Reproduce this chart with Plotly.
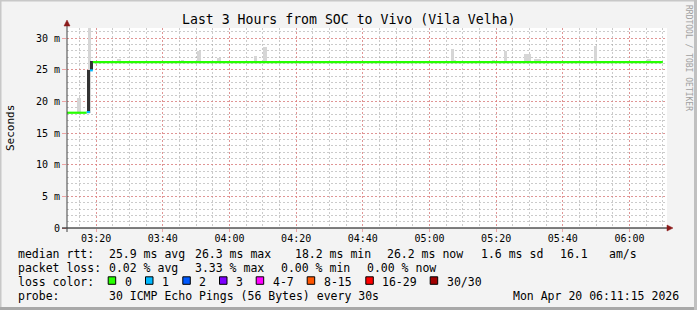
import pandas as pd
import plotly.graph_objects as go

# ---------------- data ----------------
day = "2026-04-20 "
t_start = day + "03:11:15"
t_end = day + "06:11:15"

x_tick_labels = ["03:20", "03:40", "04:00", "04:20", "04:40", "05:00", "05:20", "05:40", "06:00"]
y_tick_values = [0, 5, 10, 15, 20, 25, 30]
y_tick_labels = ["0", "5 m", "10 m", "15 m", "20 m", "25 m", "30 m"]

# median rtt (ms), step segments: start time, value, lost pings
med_time = ["03:11:15", "03:17:10", "03:18:10", "03:19:00", "06:10:00"]
med_value = [18.2, 18.3, 24.9, 26.2, 26.2]
med_loss = [0, 1, 1, 0, 0]

# light smoke (spread of individual pings)
smoke_start = ["03:14:20", "03:17:35", "03:26:10", "03:45:20", "03:50:10", "03:56:10",
               "04:07:20", "04:10:10", "05:06:20", "05:07:20", "05:18:40", "05:22:20",
               "05:28:20", "05:31:20", "05:49:20", "06:05:10"]
smoke_end = ["03:15:30", "03:18:30", "03:27:20", "03:46:20", "03:51:20", "03:57:20",
             "04:08:15", "04:11:20", "05:07:20", "05:07:50", "05:19:40", "05:23:10",
             "05:30:20", "05:33:20", "05:50:10", "06:06:20"]
smoke_low = [18.0, 18.2, 26.0, 26.0, 26.0, 26.0, 26.0, 26.0, 26.0, 26.0, 26.0, 26.0,
             26.0, 26.0, 26.0, 26.0]
smoke_high = [20.5, 32.0, 26.7, 26.6, 27.9, 26.9, 27.1, 28.6, 28.3, 26.6, 26.6, 28.0,
              27.5, 26.7, 28.7, 26.7]

# dark smoke (dense core of pings)
dark_start = ["03:17:10", "03:18:10"]
dark_end = ["03:18:10", "03:19:00"]
dark_low = [18.2, 24.9]
dark_high = [24.9, 26.3]

loss_labels = ["0", "1", "2", "3", "4-7", "8-15", "16-29", "30/30"]
loss_colors = ["#26ff00", "#00b8ff", "#0059ff", "#7e00ff", "#ff00ff", "#ff5500", "#ff0000", "#a10000"]

title_text = "Last 3 Hours from SOC to Vivo (Vila Velha)"
rtt_items = ["25.9 ms avg", "26.3 ms max", "18.2 ms min", "26.2 ms now", "1.6 ms sd", "16.1", "am/s"]
loss_items = ["0.02 % avg", "3.33 % max", "0.00 % min", "0.00 % now"]
probe_text = "30 ICMP Echo Pings (56 Bytes) every 30s"
stamp_text = "Mon Apr 20 06:11:15 2026"

# ---------------- layout helpers (pixel -> paper) ----------------
W, H = 697, 310
PL, PR, PT, PB = 67, 30, 28, 82
PW, PH = W - PL - PR, H - PT - PB


def px(x):
    return (x - PL) / PW


def py(y):
    return (H - PB - y) / PH


def ts(t):
    return pd.to_datetime(day + t)


MONO = "DejaVu Sans Mono"

fig = go.Figure()

# light smoke
s0 = [ts(t) for t in smoke_start]
s1 = [ts(t) for t in smoke_end]
fig.add_trace(go.Bar(
    x=s0, base=smoke_low, y=[h - l for h, l in zip(smoke_high, smoke_low)],
    width=[(b - a).total_seconds() * 1000 for a, b in zip(s0, s1)], offset=0,
    marker=dict(color="#d6d6d6", line=dict(width=0)), hoverinfo="skip", showlegend=False))

# dark smoke
d0 = [ts(t) for t in dark_start]
d1 = [ts(t) for t in dark_end]
fig.add_trace(go.Bar(
    x=d0, base=dark_low, y=[h - l for h, l in zip(dark_high, dark_low)],
    width=[(b - a).total_seconds() * 1000 for a, b in zip(d0, d1)], offset=0,
    marker=dict(color="#333333", line=dict(width=0)), hoverinfo="skip", showlegend=False))

# median line coloured by loss
for loss_idx, col in enumerate(loss_colors[:2]):
    xs, ys = [], []
    for i in range(len(med_time) - 1):
        if med_loss[i] == loss_idx:
            xs += [ts(med_time[i]), ts(med_time[i + 1]), None]
            ys += [med_value[i], med_value[i], None]
    fig.add_trace(go.Scatter(x=xs, y=ys, mode="lines", line=dict(color=col, width=2.2),
                             hoverinfo="skip", showlegend=False))

shapes = []
annotations = []

# frame
shapes.append(dict(type="rect", xref="paper", yref="paper", x0=px(0.5), x1=px(W - 0.5),
                   y0=py(H - 0.5), y1=py(0.5), line=dict(color="#c8c8c8", width=2), layer="below"))
shapes.append(dict(type="line", xref="paper", yref="paper", x0=px(0), x1=px(W),
                   y0=py(H - 1.5), y1=py(H - 1.5), line=dict(color="#a8a8a8", width=3)))
shapes.append(dict(type="line", xref="paper", yref="paper", x0=px(W - 1.5), x1=px(W - 1.5),
                   y0=py(H), y1=py(0), line=dict(color="#c0c0c0", width=3)))

# axis extensions and arrows
shapes.append(dict(type="line", xref="paper", yref="paper", x0=px(62), x1=px(668),
                   y0=0, y1=0, line=dict(color="#000000", width=1)))
shapes.append(dict(type="line", xref="paper", yref="paper", x0=0, x1=0,
                   y0=py(232), y1=py(25), line=dict(color="#404040", width=1)))
shapes.append(dict(type="path", xref="paper", yref="paper",
                   path=f"M {px(667)} {py(225)} L {px(673)} {py(228)} L {px(667)} {py(231)} Z",
                   fillcolor="#8b1a1a", line=dict(color="#8b1a1a", width=0.5)))
shapes.append(dict(type="path", xref="paper", yref="paper",
                   path=f"M {px(64)} {py(26)} L {px(67)} {py(20)} L {px(70)} {py(26)} Z",
                   fillcolor="#8b1a1a", line=dict(color="#8b1a1a", width=0.5)))


def text(x, y, s, size=11.5, anchor="left", color="#000000", angle=0):
    annotations.append(dict(x=px(x), y=py(y), xref="paper", yref="paper", text=s,
                            showarrow=False, xanchor=anchor, yanchor="middle",
                            textangle=angle, font=dict(family=MONO, size=size, color=color)))


text(348, 19, title_text, size=13.2, anchor="center")
text(10, 128, "Seconds", size=11, anchor="center", angle=-90)
text(689, 58, "RRDTOOL / TOBI OETIKER", size=8, anchor="center", color="#a0a0a0", angle=90)

# legend rows
r1, r2, r3, r4 = 253.5, 268, 281.5, 296
text(16, r1, "median rtt:")
for xx, s in zip([107.3, 193.3, 293.3, 385.3, 479.3, 558, 607], rtt_items):
    text(xx, r1, s)
text(16, r2, "packet loss:")
for xx, s in zip([107.3, 193.3, 279.3, 365.3], loss_items):
    text(xx, r2, s)
text(16, r3, "loss color:")
for xx, lab, col in zip([122.7, 160, 197.3, 234, 270.7, 321.7, 380.3, 444.7], loss_labels, loss_colors):
    shapes.append(dict(type="rect", xref="paper", yref="paper", x0=px(xx - 14.5), x1=px(xx - 7),
                       y0=py(284.3), y1=py(276.8), fillcolor=col, line=dict(color="#000000", width=1)))
    text(xx, r3, lab)
text(16, r4, "probe:")
text(107.3, r4, probe_text)
text(680.5, r4, stamp_text, anchor="right")

grid_major = "rgba(235,120,120,0.65)"
grid_minor = "rgba(160,160,160,0.55)"

fig.update_layout(
    width=W, height=H,
    margin=dict(l=PL, r=PR, t=PT, b=PB, pad=0),
    paper_bgcolor="#f3f3f3", plot_bgcolor="#ffffff",
    barmode="overlay", bargap=0,
    showlegend=False,
    shapes=shapes, annotations=annotations,
    font=dict(family=MONO, size=10, color="#000000"),
    xaxis=dict(
        type="date", range=[t_start, t_end],
        tickvals=[day + t for t in x_tick_labels], ticktext=x_tick_labels,
        showgrid=True, gridcolor=grid_major, griddash="2px,2px", gridwidth=1,
        minor=dict(dtick=300000, tick0=day + "03:15:00", showgrid=True,
                   gridcolor=grid_minor, griddash="2px,2px", gridwidth=1),
        ticks="outside", ticklen=3, tickcolor=grid_major, ticklabelstandoff=-2,
        showline=False, zeroline=False, fixedrange=True,
        tickfont=dict(family=MONO, size=10, color="#000000"),
    ),
    yaxis=dict(
        range=[0, 200 / 6.333],
        tickvals=y_tick_values, ticktext=y_tick_labels,
        showgrid=True, gridcolor=grid_major, griddash="2px,2px", gridwidth=1,
        minor=dict(dtick=1, showgrid=True, gridcolor=grid_minor, griddash="2px,2px", gridwidth=1),
        ticks="outside", ticklen=4, tickcolor=grid_major,
        showline=False, zeroline=False, fixedrange=True,
        tickfont=dict(family=MONO, size=10, color="#000000"),
    ),
)

fig.write_html("out.html")
